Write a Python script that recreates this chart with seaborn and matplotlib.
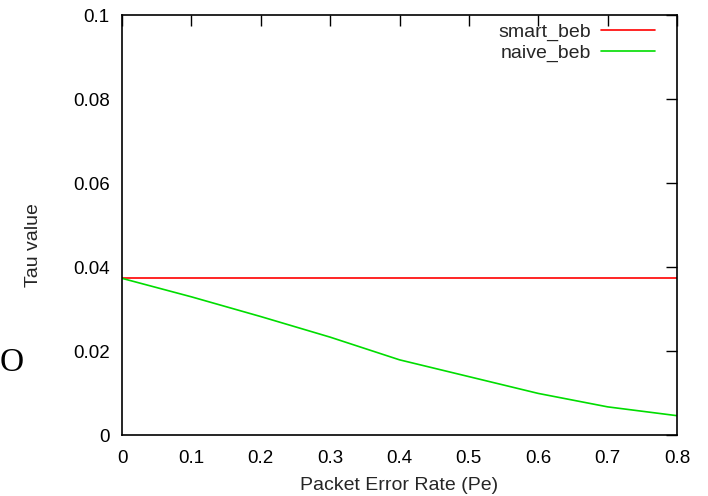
import numpy as np
import pandas as pd
import matplotlib
matplotlib.use("Agg")
import matplotlib.pyplot as plt
import seaborn as sns

pe = [0.0, 0.1, 0.2, 0.3, 0.4, 0.5, 0.6, 0.7, 0.8]
smart_beb = [0.0375, 0.0375, 0.0375, 0.0375, 0.0375, 0.0375, 0.0375, 0.0375, 0.0375]
naive_beb = [0.0373, 0.0329, 0.0282, 0.0233, 0.0179, 0.0139, 0.0099, 0.0067, 0.0046]
series_names = ["smart_beb", "naive_beb"]
xticks = [0, 0.1, 0.2, 0.3, 0.4, 0.5, 0.6, 0.7, 0.8]
yticks = [0, 0.02, 0.04, 0.06, 0.08, 0.1]
ytick_labels = ["0", "0.02", "0.04", "0.06", "0.08", "0.1"]
xtick_labels = ["0", "0.1", "0.2", "0.3", "0.4", "0.5", "0.6", "0.7", "0.8"]

df = pd.DataFrame({
    "Pe": pe * 2,
    "tau": smart_beb + naive_beb,
    "series": [series_names[0]] * len(pe) + [series_names[1]] * len(pe),
})

sns.set_style("white")
plt.rcParams["font.family"] = ["Liberation Sans", "DejaVu Sans"]

fig = plt.figure(figsize=(7.08, 4.96), dpi=100)
ax = fig.add_axes([122 / 708, 1 - 435 / 496, (677 - 122) / 708, (435 - 15) / 496])

sns.lineplot(data=df, x="Pe", y="tau", hue="series",
             palette={"smart_beb": "#ff0000", "naive_beb": "#00dd00"},
             linewidth=1.2, ax=ax, legend=True)

ax.set_xlim(0, 0.8)
ax.set_ylim(0, 0.1)
ax.set_xticks(xticks)
ax.set_xticklabels(xtick_labels)
ax.set_yticks(yticks)
ax.set_yticklabels(ytick_labels)
ax.tick_params(direction="in", length=8, width=1, top=True, right=True,
               labelsize=13.5, colors="black", pad=9)
ax.tick_params(axis="x", pad=11)
for s in ax.spines.values():
    s.set_visible(True)
    s.set_color("black")
    s.set_linewidth(1.2)

ax.set_xlabel("Packet Error Rate (Pe)", fontsize=14)
ax.set_ylabel("Tau value", fontsize=14)
ax.xaxis.set_label_coords(0.5, -0.121)
ax.yaxis.set_label_coords(-0.16, 0.452)
ax.xaxis.label.set_va("center")
ax.yaxis.label.set_va("center")

handles, labels = ax.get_legend_handles_labels()
leg = ax.legend(handles, labels, loc="upper right", frameon=False,
                markerfirst=False, fontsize=14, handlelength=2.75,
                handletextpad=0.55, labelspacing=0.15,
                borderaxespad=0.0, bbox_to_anchor=(0.974, 0.998))

fig.text(0.0, 1 - 363 / 496, "O", family=["Liberation Serif", "DejaVu Serif"],
         fontsize=24, ha="left", va="center", color="black")

fig.savefig("out.png", dpi=100)
